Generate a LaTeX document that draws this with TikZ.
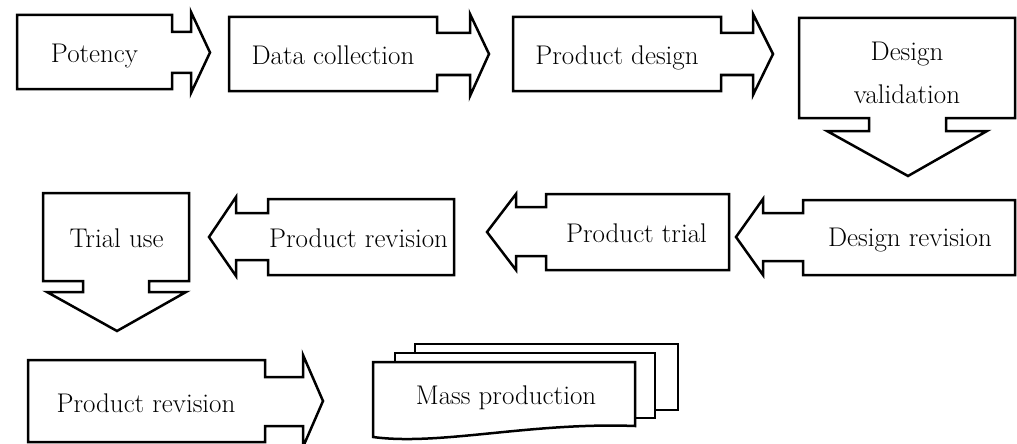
\documentclass[tikz,border=0pt]{standalone}
\usepackage{tikz}

\begin{document}
\begin{tikzpicture}[x=1pt,y=-1pt,
        stepshape/.style={draw,line width=2.5pt,line join=miter,fill=white},
        lbl/.style={anchor=base,inner sep=0pt,
                    font=\fontsize{27}{42}\selectfont}
      ]
        \useasboundingbox (0,0) rectangle (1017,444);
        % top row, pointing right
        \draw[stepshape](17,15)-|(172,32)-|(191,12)--(210,52.5)--(191,93)
          |-(172,73)|-(17,89)--cycle;
        \draw[stepshape](229,17)-|(437,33)-|(470,14)--(489,54)--(470,96)
          |-(437,75)|-(229,91)--cycle;
        \draw[stepshape](513,17)-|(721,33)-|(753,14)--(773,54)--(753,95)
          |-(721,75)|-(513,91)--cycle;
        \draw[stepshape](799,18)-|(1015,118)-|(946,131)--(987,131)
          --(908,176)--(827,131)--(869,131)|-(799,118)--cycle;
        \node[lbl] (potency) at (94.5,63){Potency};
        \node[lbl] (datacoll) at (333,65){Data collection};
        \node[lbl] (proddesign) at (617,65){Product design};
        \node[lbl] (designval1) at (907,61){Design};
        \node[lbl] (designval2) at (907,103){validation};
        % middle row, pointing left
        \draw[stepshape](43,193)-|(189,281)-|(149,292)--(186,292)
          --(117,331)--(47,292)--(83,292)|-(43,281)--cycle;
        \draw[stepshape](209,237)--(236,197)|-(268,213)|-(454,199)
          |-(268,275)|-(236,260)--(236,276)--cycle;
        \draw[stepshape](487,232)--(516,194)|-(546,207)|-(729,194)
          |-(546,270)|-(516,256)--(516,270)--cycle;
        \draw[stepshape](736,237)--(763,199)|-(803,213)|-(1015,200)
          |-(803,275)|-(763,261)--(763,275)--cycle;
        \node[lbl] (trialuse) at (116.5,247){Trial use};
        \node[lbl] (prodrev1) at (358.5,247){Product revision};
        \node[lbl] (prodtrial) at (636.5,242){Product trial};
        \node[lbl] (designrev) at (910,246){Design revision};
        % bottom row
        \draw[stepshape](28,360)-|(265,377)-|(303,355)--(323,401)--(303,447)
          |-(265,426)|-(28,442)--cycle;
        \draw[stepshape](415,344) rectangle (678,410);
        \draw[stepshape](395,353) rectangle (655,418);
        \draw[stepshape](373,362)--(635,362)--(635,426)
          ..controls (530,422) and (440,446)..(373,437)--cycle;
        \node[lbl] (prodrev2) at (146,412){Product revision};
        \node[lbl] (massprod) at (506,404){Mass production};
      \end{tikzpicture}
\end{document}
